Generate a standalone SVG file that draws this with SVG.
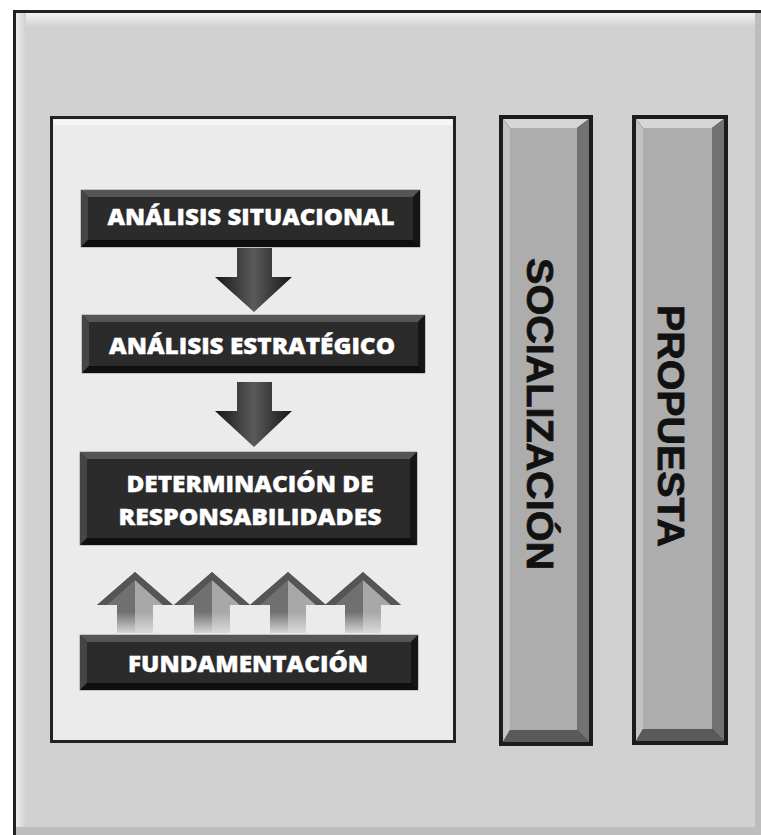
<svg xmlns="http://www.w3.org/2000/svg" width="761" height="835" viewBox="0 0 761 835">
<defs>
<style>
.lbl{font-family:"Open Sans","Liberation Sans",sans-serif;font-weight:800;fill:#ffffff;stroke:#ffffff;stroke-width:0.4;text-anchor:middle;font-size:23px}
.vlbl{font-family:"Liberation Sans",Arial,sans-serif;font-weight:700;fill:#111111;stroke:#111111;stroke-width:0.8;font-size:37px}
.bt{fill:#555555}.bl{fill:#454545}.br{fill:#161616}.bb{fill:#0f0f0f}.bc{fill:#2b2b2b}
.gt{fill:#d6d6d6}.gl{fill:#c3c3c3}.gr{fill:#727272}.gb{fill:#5a5a5a}.gc{fill:#adadad}
</style>
<linearGradient id="dn" x1="0" y1="0" x2="1" y2="0">
<stop offset="0" stop-color="#161616"/><stop offset="0.5" stop-color="#5a5a5a"/><stop offset="1" stop-color="#161616"/>
</linearGradient>
<linearGradient id="topHi" x1="0" y1="0" x2="0" y2="1">
<stop offset="0" stop-color="#f2f2f2"/><stop offset="1" stop-color="#d1d1d1"/>
</linearGradient>
<linearGradient id="leftHi" x1="0" y1="0" x2="1" y2="0">
<stop offset="0" stop-color="#ececec"/><stop offset="1" stop-color="#d1d1d1"/>
</linearGradient>
<linearGradient id="fade" x1="0" y1="0" x2="0" y2="1">
<stop offset="0" stop-color="#e0e0e0" stop-opacity="0"/><stop offset="1" stop-color="#e0e0e0" stop-opacity="0.9"/>
</linearGradient>
<g id="up">
<polygon points="0,0 38,33 18,33 18,61 -18,61 -18,33 -38,33" fill="#666666"/>
<polygon points="0,8 0,61 -18,61 -18,33 -28,33" fill="#707070"/>
<polygon points="0,8 28,33 18,33 18,61 0,61" fill="#a8a8a8"/>
<polygon points="0,0 38,33 28,33 0,8 -28,33 -38,33" fill="#555555"/>
<rect x="-18" y="40" width="36" height="21" fill="url(#fade)"/>
</g>
</defs>

<!-- outer frame -->
<g id="frame">
<rect x="0" y="0" width="761" height="835" fill="#ffffff"/>
<rect x="14" y="11" width="747" height="824" fill="#d1d1d1"/>
<rect x="16" y="13" width="745" height="14" fill="url(#topHi)"/>
<rect x="16" y="13" width="10" height="822" fill="url(#leftHi)"/>
<rect x="755" y="13" width="6" height="822" fill="#bdbdbd"/>
<rect x="16" y="827" width="745" height="8" fill="#bdbdbd"/>
<path d="M14.5,835 V11.5 H761" fill="none" stroke="#222222" stroke-width="3"/>
</g>

<!-- left panel -->
<g id="panel">
<rect x="51.5" y="117.5" width="403" height="624" fill="#ebebeb" stroke="#222222" stroke-width="3"/>
<rect x="54" y="120" width="398" height="5" fill="#f6f6f6"/>
</g>

<g id="analisis-situacional">
<rect x="81" y="190" width="339" height="57" fill="#1a1a1a" stroke="#9a9a9a" stroke-width="1"/>
<polygon class="bt" points="81,190 420,190 413,197 88,197"/>
<polygon class="bl" points="81,190 88,197 88,240 81,247"/>
<polygon class="br" points="420,190 420,247 413,240 413,197"/>
<polygon class="bb" points="81,247 420,247 413,240 88,240"/>
<rect class="bc" x="88" y="197" width="325" height="43"/>
<text class="lbl" x="251" y="225" textLength="287" lengthAdjust="spacingAndGlyphs">ANÁLISIS SITUACIONAL</text>
</g>

<g id="analisis-estrategico">
<rect x="82" y="315" width="343" height="58" fill="#1a1a1a" stroke="#9a9a9a" stroke-width="1"/>
<polygon class="bt" points="82,315 425,315 418,322 89,322"/>
<polygon class="bl" points="82,315 89,322 89,366 82,373"/>
<polygon class="br" points="425,315 425,373 418,366 418,322"/>
<polygon class="bb" points="82,373 425,373 418,366 89,366"/>
<rect class="bc" x="89" y="322" width="329" height="44"/>
<text class="lbl" x="252" y="354" textLength="286" lengthAdjust="spacingAndGlyphs">ANÁLISIS ESTRATÉGICO</text>
</g>

<g id="determinacion">
<rect x="80" y="452" width="337" height="93" fill="#1a1a1a" stroke="#9a9a9a" stroke-width="1"/>
<polygon class="bt" points="80,452 417,452 410,459 87,459"/>
<polygon class="bl" points="80,452 87,459 87,538 80,545"/>
<polygon class="br" points="417,452 417,545 410,538 410,459"/>
<polygon class="bb" points="80,545 417,545 410,538 87,538"/>
<rect class="bc" x="87" y="459" width="323" height="79"/>
<text class="lbl" x="250" y="492" textLength="247" lengthAdjust="spacingAndGlyphs">DETERMINACIÓN DE</text>
<text class="lbl" x="250" y="525" textLength="263" lengthAdjust="spacingAndGlyphs">RESPONSABILIDADES</text>
</g>

<g id="fundamentacion">
<rect x="80" y="635" width="338" height="55" fill="#1a1a1a" stroke="#9a9a9a" stroke-width="1"/>
<polygon class="bt" points="80,635 418,635 411,642 87,642"/>
<polygon class="bl" points="80,635 87,642 87,683 80,690"/>
<polygon class="br" points="418,635 418,690 411,683 411,642"/>
<polygon class="bb" points="80,690 418,690 411,683 87,683"/>
<rect class="bc" x="87" y="642" width="324" height="41"/>
<text class="lbl" x="248" y="672" textLength="240" lengthAdjust="spacingAndGlyphs">FUNDAMENTACIÓN</text>
</g>

<g id="socializacion">
<rect x="499" y="115" width="94" height="631" fill="#1c1c1c"/>
<polygon class="gt" points="503,119 589,119 577,128 510,128"/>
<polygon class="gl" points="503,119 510,128 510,730 503,742"/>
<polygon class="gr" points="589,119 589,742 577,730 577,128"/>
<polygon class="gb" points="503,742 589,742 577,730 510,730"/>
<rect class="gc" x="510" y="128" width="67" height="602"/>
<text class="vlbl" transform="translate(527,258) rotate(90)" textLength="312" lengthAdjust="spacingAndGlyphs">SOCIALIZACIÓN</text>
</g>

<g id="propuesta">
<rect x="632" y="115" width="96" height="630" fill="#1c1c1c"/>
<polygon class="gt" points="636,119 724,119 712,128 643,128"/>
<polygon class="gl" points="636,119 643,128 643,729 636,741"/>
<polygon class="gr" points="724,119 724,741 712,729 712,128"/>
<polygon class="gb" points="636,741 724,741 712,729 643,729"/>
<rect class="gc" x="643" y="128" width="69" height="601"/>
<text class="vlbl" transform="translate(658,305) rotate(90)" textLength="242" lengthAdjust="spacingAndGlyphs">PROPUESTA</text>
</g>

<g id="connectors">
<polygon points="237,248 272,248 272,277 292,277 254,312 215,277 237,277" fill="url(#dn)"/>
<polygon points="237,382 272,382 272,411 292,411 254,447 215,411 237,411" fill="url(#dn)"/>
<use href="#up" x="135" y="572"/>
<use href="#up" x="212" y="572"/>
<use href="#up" x="288" y="572"/>
<use href="#up" x="363" y="572"/>
</g>
</svg>
